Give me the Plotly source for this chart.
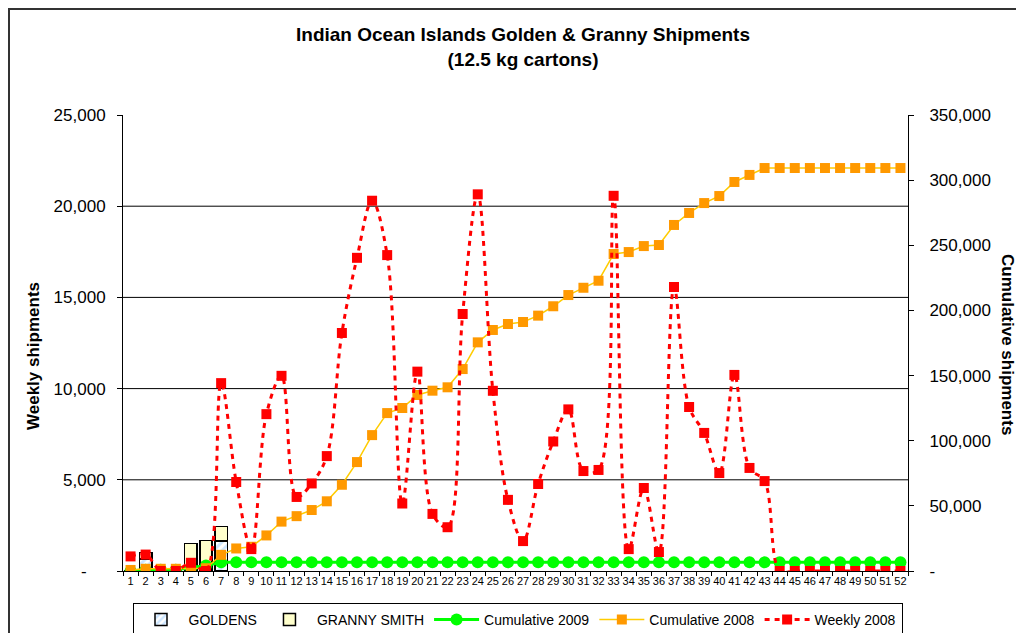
import plotly.graph_objects as go

# ---------------- data ----------------
weeks = [str(w) for w in range(1, 53)]
bar_weeks = ["1", "2", "3", "4", "5", "6", "7"]
goldens_2009 = [0, 670, 0, 0, 0, 0, 1640]
granny_2009 = [0, 350, 0, 0, 1520, 1660, 790]

cumulative_2009 = [0, 1020, 1020, 1020, 2540, 4200, 6630, 6630, 6630, 6630,
                   6630, 6630, 6630, 6630, 6630, 6630, 6630, 6630, 6630, 6630,
                   6630, 6630, 6630, 6630, 6630, 6630, 6630, 6630, 6630, 6630,
                   6630, 6630, 6630, 6630, 6630, 6630, 6630, 6630, 6630, 6630,
                   6630, 6630, 6630, 6630, 6630, 6630, 6630, 6630, 6630, 6630,
                   6630, 6630]

cumulative_2008 = [800, 1700, 1700, 1700, 2150, 2150, 12400, 17300, 18600, 27300,
                   37900, 42100, 46800, 53500, 66200, 83600, 104300, 121200, 125100, 135100,
                   138400, 141000, 155000, 175500, 185000, 189600, 191100, 196000, 203200, 211800,
                   217400, 222800, 243300, 244800, 249400, 250200, 265600, 274800, 282400, 287800,
                   298600, 304000, 309300, 309300, 309300, 309300, 309300, 309300, 309300, 309300,
                   309300, 309300]

weekly_2008 = [800, 900, 0, 0, 450, 0, 10300, 4880, 1200, 8600,
               10700, 4060, 4800, 6300, 13050, 17170, 20300, 17320, 3700, 10930,
               3130, 2400, 14090, 20650, 9880, 3900, 1640, 4770, 7100, 8860,
               5480, 5540, 20570, 1200, 4550, 1040, 15570, 8990, 7570, 5370,
               10750, 5650, 4930, 0, 0, 0, 0, 0, 0, 0,
               0, 0]

left_ticks = [0, 5000, 10000, 15000, 20000, 25000]
left_ticktext = ["-\u00a0\u00a0\u00a0\u00a0", "5,000", "10,000", "15,000", "20,000", "25,000"]
right_ticks = [0, 50000, 100000, 150000, 200000, 250000, 300000, 350000]
right_ticktext = ["-", "50,000", "100,000", "150,000", "200,000", "250,000", "300,000", "350,000"]

FONT = "Liberation Sans, Arial, sans-serif"

fig = go.Figure()

fig.add_trace(go.Bar(
    x=bar_weeks, y=goldens_2009, name="GOLDENS", yaxis="y",
    marker=dict(color="white", line=dict(color="black", width=1.5),
                pattern=dict(shape="/", fgcolor="#99CCFF", bgcolor="white", size=6, solidity=0.5)),
))
fig.add_trace(go.Bar(
    x=bar_weeks, y=granny_2009, name="GRANNY SMITH", yaxis="y",
    marker=dict(color="#FFFFCC", line=dict(color="black", width=1.5)),
))
fig.add_trace(go.Scatter(
    x=weeks, y=cumulative_2009, name="Cumulative 2009", yaxis="y2",
    mode="lines+markers",
    line=dict(color="#00FF00", width=3),
    marker=dict(symbol="circle", size=12, color="#00FF00"),
))
fig.add_trace(go.Scatter(
    x=weeks, y=cumulative_2008, name="Cumulative 2008", yaxis="y2",
    mode="lines+markers",
    line=dict(color="#FFCC00", width=1.5),
    marker=dict(symbol="square", size=10, color="#FF9900"),
))
fig.add_trace(go.Scatter(
    x=weeks, y=weekly_2008, name="Weekly 2008", yaxis="y3",
    mode="lines+markers",
    line=dict(color="#FF0000", width=3, dash="5px,5px", shape="spline", smoothing=1.0),
    marker=dict(symbol="square", size=10, color="#FF0000"),
))

# the page has an 8px body margin, so the figure is placed at (8, 8)
PW, PH = 785, 456           # plot area size in pixels
X0, Y1 = 123, 571           # plot area left / bottom in page pixels


def px_x(p):
    return (p - X0) / PW


def px_y(p):
    return (Y1 - p) / PH


shapes = []
for v in left_ticks[1:-1]:
    shapes.append(dict(type="line", xref="paper", yref="y", x0=0, x1=1, y0=v, y1=v,
                       line=dict(color="black", width=1), layer="below"))
shapes.append(dict(type="rect", xref="paper", yref="paper",
                   x0=px_x(9), x1=px_x(1040), y0=px_y(650), y1=px_y(9),
                   line=dict(color="#333333", width=2), layer="below"))

fig.update_layout(
    width=1016, height=625,
    margin=dict(l=115, r=116, t=107, b=62, autoexpand=False),
    paper_bgcolor="white", plot_bgcolor="white",
    font=dict(family=FONT, color="black"),
    barmode="stack", bargap=0.18,
    showlegend=True,
    xaxis=dict(type="category", range=[-0.5, 51.5], showgrid=False,
               showline=True, linecolor="black", linewidth=1,
               ticks="outside", tickson="boundaries", ticklen=4, tickcolor="black",
               tickangle=0, tickfont=dict(size=11, family=FONT), zeroline=False),
    yaxis=dict(range=[0, 25000], tickvals=left_ticks, ticktext=left_ticktext,
               showgrid=False, zeroline=False, showline=True, linecolor="black", linewidth=1,
               ticks="outside", ticklen=5, tickcolor="black",
               tickfont=dict(size=17, family=FONT), ticklabelstandoff=8),
    yaxis2=dict(range=[0, 350000], tickvals=right_ticks, ticktext=right_ticktext,
                overlaying="y", side="right", anchor="x",
                showgrid=False, zeroline=False, showline=True, linecolor="black", linewidth=1,
                ticks="outside", ticklen=5, tickcolor="black",
                tickfont=dict(size=17, family=FONT), ticklabelstandoff=12),
    yaxis3=dict(range=[0, 25000], overlaying="y", visible=False),
    legend=dict(orientation="h", x=px_x(517.5), xanchor="center", y=px_y(603), yanchor="top",
                bordercolor="black", borderwidth=1, bgcolor="white",
                font=dict(size=14, family=FONT), traceorder="normal",
                itemwidth=45, tracegroupgap=0),
    shapes=shapes,
    annotations=[
        dict(text="<b>Indian Ocean Islands Golden & Granny Shipments<br>(12.5 kg cartons)</b>",
             xref="paper", yref="paper", x=px_x(523), y=px_y(47),
             showarrow=False, xanchor="center", yanchor="middle",
             font=dict(size=19, family=FONT)),
        dict(text="<b>Weekly shipments</b>", xref="paper", yref="paper",
             x=px_x(33), y=px_y(356), textangle=-90, showarrow=False,
             xanchor="center", yanchor="middle", font=dict(size=17, family=FONT)),
        dict(text="<b>Cumulative shipments</b>", xref="paper", yref="paper",
             x=px_x(1008), y=px_y(344), textangle=90, showarrow=False,
             xanchor="center", yanchor="middle", font=dict(size=17, family=FONT)),
    ],
)

fig.write_html("out.html")
